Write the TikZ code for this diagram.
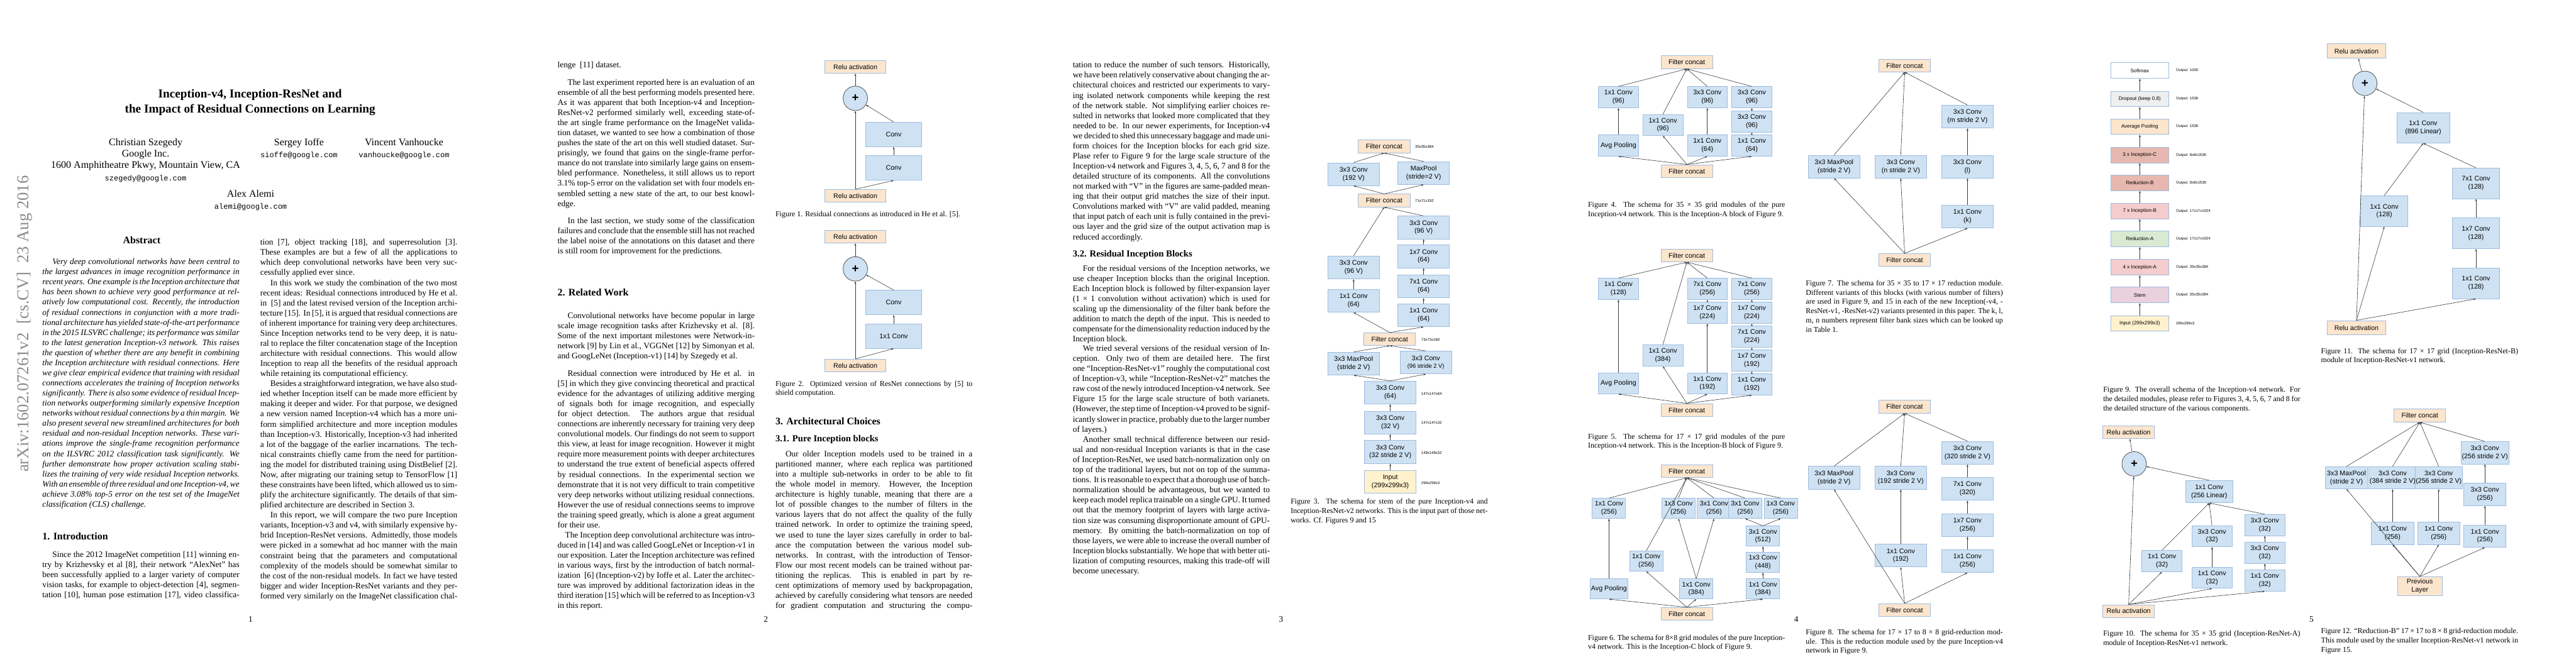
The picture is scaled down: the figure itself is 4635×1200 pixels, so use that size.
\documentclass[tikz,border=0pt]{standalone}
\usepackage{fontspec}
\setmainfont{Liberation Serif}
\setsansfont{Liberation Sans}
\setmonofont{Liberation Mono}
\usetikzlibrary{arrows.meta, positioning}

\newlength{\pxu}
\setlength{\pxu}{0.23283mm}
\definecolor{convfill}{HTML}{CFE2F3}
\definecolor{catfill}{HTML}{FCE5CD}
\definecolor{inpfill}{HTML}{FFF2CC}
\definecolor{boxline}{HTML}{9FBCE0}
\definecolor{sumline}{HTML}{505050}
\definecolor{wire}{HTML}{3A3A3A}
\definecolor{stampgray}{HTML}{8C8C8C}
\definecolor{incfill}{HTML}{F4CCCC}
\definecolor{redfill}{HTML}{E6B8AF}
\definecolor{grnfill}{HTML}{D9EAD3}
\definecolor{stemfill}{HTML}{EAD1DC}
\definecolor{grayfill}{HTML}{EFEFEF}

\newcommand{\bodytext}[1]{\parbox[t]{3.25in}{\fontsize{10}{12.05}\selectfont
  \setlength{\parindent}{12pt}\setlength{\parskip}{0pt}#1}}
\newcommand{\captext}[1]{\parbox[t]{3.25in}{\fontsize{9}{11.1}\selectfont
  \setlength{\parindent}{0pt}#1}}
\newcommand{\figfont}{\sffamily\fontsize{8}{9.5}\selectfont}
\newcommand{\smallfig}{\sffamily\fontsize{6.5}{7.8}\selectfont}
\newcommand{\secfont}{\fontsize{12}{14}\selectfont\bfseries}
\newcommand{\subsecfont}{\fontsize{11}{13}\selectfont\bfseries}

\tikzset{
  blk/.style={rectangle, draw=boxline, line width=0.6pt, inner sep=1pt,
    align=center, font=\figfont},
  conv/.style={blk, fill=convfill},
  cat/.style={blk, fill=catfill},
  inp/.style={blk, fill=inpfill},
  wh/.style 2 args={minimum width=#1\pxu, minimum height=#2\pxu},
  sumnode/.style={circle, draw=sumline, fill=convfill, line width=0.6pt,
    minimum size=44\pxu, inner sep=0, font=\sffamily\fontsize{14}{14}\selectfont\bfseries},
  dimlbl/.style={anchor=west, inner sep=0, font=\sffamily\fontsize{4.5}{5}\selectfont},
  arr/.style={draw=wire, line width=0.45pt, -{Stealth[length=3pt, width=2.2pt]}},
  txt/.style={anchor=base west, inner sep=0},
  pgnum/.style={anchor=base, inner sep=0, font=\fontsize{10}{12}\selectfont},
}

\begin{document}
\begin{tikzpicture}[x=1\pxu, y=-1\pxu]
\fill[white] (0,0) rectangle (4635,1200);
\useasboundingbox (0,0) rectangle (4635,1200);

% ---------- page 1
\node[anchor=west, rotate=90, inner sep=0, text=stampgray, font=\fontsize{20}{20}\selectfont]
  (stamp) at (44,850) {arXiv:1602.07261v2\ \ [cs.CV]\ \ 23 Aug 2016};
\node[anchor=base, inner sep=0, font=\fontsize{14.4}{18}\selectfont\bfseries]
  (title1) at (450,176) {Inception-v4, Inception-ResNet and};
\node[anchor=base, inner sep=0, font=\fontsize{14.4}{18}\selectfont\bfseries]
  (title2) at (450,203) {the Impact of Residual Connections on Learning};
\node[anchor=base, inner sep=0, font=\fontsize{12}{14}\selectfont] (au1) at (262,262) {Christian Szegedy};
\node[anchor=base, inner sep=0, font=\fontsize{12}{14}\selectfont] (aff1) at (262,282) {Google Inc.};
\node[anchor=base, inner sep=0, font=\fontsize{12}{14}\selectfont] (adr1) at (262,303) {1600 Amphitheatre Pkwy, Mountain View, CA};
\node[anchor=base, inner sep=0, font=\fontsize{9}{11}\ttfamily] (em1) at (262,325) {szegedy@google.com};
\node[anchor=base, inner sep=0, font=\fontsize{12}{14}\selectfont] (au2) at (538,262) {Sergey Ioffe};
\node[anchor=base, inner sep=0, font=\fontsize{9}{11}\ttfamily] (em2) at (538,283) {sioffe@google.com};
\node[anchor=base, inner sep=0, font=\fontsize{12}{14}\selectfont] (au3) at (727,262) {Vincent Vanhoucke};
\node[anchor=base, inner sep=0, font=\fontsize{9}{11}\ttfamily] (em3) at (727,283) {vanhoucke@google.com};
\node[anchor=base, inner sep=0, font=\fontsize{12}{14}\selectfont] (au4) at (451,355) {Alex Alemi};
\node[anchor=base, inner sep=0, font=\fontsize{9}{11}\ttfamily] (em4) at (451,376) {alemi@google.com};

\node[anchor=base, inner sep=0, font=\fontsize{12}{14}\selectfont\bfseries] (abshead) at (255,438) {Abstract};
\node[txt] (abstract) at (76,476) {\bodytext{\itshape Very deep convolutional networks have been central to the largest advances in image recognition performance in recent years. One example is the Inception architecture that has been shown to achieve very good performance at relatively low computational cost. Recently, the introduction of residual connections in conjunction with a more traditional architecture has yielded state-of-the-art performance in the 2015 ILSVRC challenge; its performance was similar to the latest generation Inception-v3 network. This raises the question of whether there are any benefit in combining the Inception architecture with residual connections. Here we give clear empirical evidence that training with residual connections accelerates the training of Inception networks significantly. There is also some evidence of residual Inception networks outperforming similarly expensive Inception networks without residual connections by a thin margin. We also present several new streamlined architectures for both residual and non-residual Inception networks. These variations improve the single-frame recognition performance on the ILSVRC 2012 classification task significantly. We further demonstrate how proper activation scaling stabilizes the training of very wide residual Inception networks. With an ensemble of three residual and one Inception-v4, we achieve 3.08\% top-5 error on the test set of the ImageNet classification (CLS) challenge.}};
\node[txt, font=\secfont] (sec1) at (76,972) {1. Introduction};
\node[txt] (intro) at (76,1003) {\bodytext{\parfillskip=0pt Since the 2012 ImageNet competition [11] winning entry by Krizhevsky et al [8], their network ``AlexNet'' has been successfully applied to a larger variety of computer vision tasks, for example to object-detection [4], segmentation [10], human pose estimation [17], video classifica-}};
\node[txt] (p1right) at (468,441) {\bodytext{\noindent tion [7], object tracking [18], and superresolution [3]. These examples are but a few of all the applications to which deep convolutional networks have been very successfully applied ever since.

In this work we study the combination of the two most recent ideas: Residual connections introduced by He et al. in~ [5] and the latest revised version of the Inception architecture [15]. In [5], it is argued that residual connections are of inherent importance for training very deep architectures. Since Inception networks tend to be very deep, it is natural to replace the filter concatenation stage of the Inception architecture with residual connections. This would allow Inception to reap all the benefits of the residual approach while retaining its computational efficiency.

Besides a straightforward integration, we have also studied whether Inception itself can be made more efficient by making it deeper and wider. For that purpose, we designed a new version named Inception-v4 which has a more uniform simplified architecture and more inception modules than Inception-v3. Historically, Inception-v3 had inherited a lot of the baggage of the earlier incarnations. The technical constraints chiefly came from the need for partitioning the model for distributed training using DistBelief [2]. Now, after migrating our training setup to TensorFlow [1] these constraints have been lifted, which allowed us to simplify the architecture significantly. The details of that simplified architecture are described in Section 3.

\parfillskip=0pt In this report, we will compare the two pure Inception variants, Inception-v3 and v4, with similarly expensive hybrid Inception-ResNet versions. Admittedly, those models were picked in a somewhat ad hoc manner with the main constraint being that the parameters and computational complexity of the models should be somewhat similar to the cost of the non-residual models. In fact we have tested bigger and wider Inception-ResNet variants and they performed very similarly on the ImageNet classification chal-}};
\node[pgnum] (pg1) at (451,1120) {1};

% ---------- page 2
\node[txt] (p2a) at (1003,122) {\bodytext{\noindent lenge~ [11] dataset.}};
\node[txt] (p2b) at (1003,153) {\bodytext{The last experiment reported here is an evaluation of an ensemble of all the best performing models presented here. As it was apparent that both Inception-v4 and Inception-ResNet-v2 performed similarly well, exceeding state-of-the art single frame performance on the ImageNet validation dataset, we wanted to see how a combination of those pushes the state of the art on this well studied dataset. Surprisingly, we found that gains on the single-frame performance do not translate into similarly large gains on ensembled performance. Nonetheless, it still allows us to report 3.1\% top-5 error on the validation set with four models ensembled setting a new state of the art, to our best knowledge.}};
\node[txt] (p2c) at (1003,402) {\bodytext{In the last section, we study some of the classification failures and conclude that the ensemble still has not reached the label noise of the annotations on this dataset and there is still room for improvement for the predictions.}};
\node[txt, font=\secfont] (sec2) at (1003,532) {2. Related Work};
\node[txt] (p2d) at (1003,573) {\bodytext{Convolutional networks have become popular in large scale image recognition tasks after Krizhevsky et al. [8]. Some of the next important milestones were Network-in-network [9] by Lin et al., VGGNet [12] by Simonyan et al. and GoogLeNet (Inception-v1) [14] by Szegedy et al.}};
\node[txt] (p2e) at (1003,677) {\bodytext{\looseness=-1 Residual connection were introduced by He et al. in [5] in which they give convincing theoretical and practical evidence for the advantages of utilizing additive merging of signals both for image recognition, and especially for object detection. The authors argue that residual connections are inherently necessary for training very deep convolutional models. Our findings do not seem to support this view, at least for image recognition. However it might require more measurement points with deeper architectures to understand the true extent of beneficial aspects offered by residual connections. In the experimental section we demonstrate that it is not very difficult to train competitive very deep networks without utilizing residual connections. However the use of residual connections seems to improve the training speed greatly, which is alone a great argument for their use.\par
\noindent\hspace*{9pt}The Inception deep convolutional architecture was introduced in [14] and was called GoogLeNet or Inception-v1 in our exposition. Later the Inception architecture was refined in various ways, first by the introduction of batch normalization~ [6] (Inception-v2) by Ioffe et al. Later the architecture was improved by additional factorization ideas in the third iteration [15] which will be referred to as Inception-v3 in this report.}};

% figure 1
\node[cat, wh={110}{23}] (f1relu2) at (1539,120.5) {Relu activation};
\node[sumnode] (f1sum) at (1539,177) {+};
\node[conv, wh={100}{44}] (f1conv2) at (1608,242) {Conv};
\node[conv, wh={100}{44}] (f1conv1) at (1608,302.5) {Conv};
\node[cat, wh={110}{23}] (f1relu1) at (1539,352.5) {Relu activation};
\draw[arr] (f1relu1.north) -- (f1sum);
\draw[arr] (f1relu1.north) -- (f1conv1.south);
\draw[arr] (f1conv1) -- (f1conv2);
\draw[arr] (f1conv2.north) -- (f1sum);
\draw[arr] (f1sum) -- (f1relu2);
\node[txt] (cap1) at (1395,390) {\captext{Figure 1. Residual connections as introduced in He et al. [5].}};

% figure 2
\node[cat, wh={110}{23}] (f2relu2) at (1539,426) {Relu activation};
\node[sumnode] (f2sum) at (1539,484) {+};
\node[conv, wh={100}{44}] (f2conv2) at (1608,544.5) {Conv};
\node[conv, wh={100}{44}] (f2conv1) at (1608,605) {1x1 Conv};
\node[cat, wh={110}{23}] (f2relu1) at (1539,658) {Relu activation};
\draw[arr] (f2relu1.north) -- (f2sum);
\draw[arr] (f2relu1.north) -- (f2conv1.south);
\draw[arr] (f2conv1) -- (f2conv2);
\draw[arr] (f2conv2.north) -- (f2sum);
\draw[arr] (f2sum) -- (f2relu2);
\node[txt] (cap2) at (1395,695) {\captext{Figure 2. Optimized version of ResNet connections by [5] to shield computation.}};

\node[txt, font=\secfont] (sec3) at (1395,764) {3. Architectural Choices};
\node[txt, font=\subsecfont] (sec31) at (1395,795) {3.1. Pure Inception blocks};
\node[txt] (p2g) at (1395,822) {\bodytext{\parfillskip=0pt Our older Inception models used to be trained in a partitioned manner, where each replica was partitioned into a multiple sub-networks in order to be able to fit the whole model in memory. However, the Inception architecture is highly tunable, meaning that there are a lot of possible changes to the number of filters in the various layers that do not affect the quality of the fully trained network. In order to optimize the training speed, we used to tune the layer sizes carefully in order to balance the computation between the various model sub-networks. In contrast, with the introduction of TensorFlow our most recent models can be trained without partitioning the replicas. This is enabled in part by recent optimizations of memory used by backpropagation, achieved by carefully considering what tensors are needed for gradient computation and structuring the compu-}};
\node[pgnum] (pg2) at (1378,1120) {2};

% ---------- page 3
\node[txt] (p3a) at (1930,122) {\bodytext{\noindent tation to reduce the number of such tensors. Historically, we have been relatively conservative about changing the architectural choices and restricted our experiments to varying isolated network components while keeping the rest of the network stable. Not simplifying earlier choices resulted in networks that looked more complicated that they needed to be. In our newer experiments, for Inception-v4 we decided to shed this unnecessary baggage and made uniform choices for the Inception blocks for each grid size. Plase refer to Figure 9 for the large scale structure of the Inception-v4 network and Figures 3, 4, 5, 6, 7 and 8 for the detailed structure of its components. All the convolutions not marked with ``V'' in the figures are same-padded meaning that their output grid matches the size of their input. Convolutions marked with ``V'' are valid padded, meaning that input patch of each unit is fully contained in the previous layer and the grid size of the output activation map is reduced accordingly.}};
\node[txt, font=\subsecfont] (sec32) at (1930,462) {3.2. Residual Inception Blocks};
\node[txt] (p3b) at (1930,488) {\bodytext{For the residual versions of the Inception networks, we use cheaper Inception blocks than the original Inception. Each Inception block is followed by filter-expansion layer (1 × 1 convolution without activation) which is used for scaling up the dimensionality of the filter bank before the addition to match the depth of the input. This is needed to compensate for the dimensionality reduction induced by the Inception block.}};
\node[txt] (p3c) at (1930,632) {\bodytext{We tried several versions of the residual version of Inception. Only two of them are detailed here. The first one ``Inception-ResNet-v1'' roughly the computational cost of Inception-v3, while ``Inception-ResNet-v2'' matches the raw cost of the newly introduced Inception-v4 network. See Figure 15 for the large scale structure of both varianets. (However, the step time of Inception-v4 proved to be significantly slower in practice, probably due to the larger number of layers.)}};
\node[txt] (p3d) at (1930,796) {\bodytext{Another small technical difference between our residual and non-residual Inception variants is that in the case of Inception-ResNet, we used batch-normalization only on top of the traditional layers, but not on top of the summations. It is reasonable to expect that a thorough use of batch-normalization should be advantageous, but we wanted to keep each model replica trainable on a single GPU. It turned out that the memory footprint of layers with large activation size was consuming disproportionate amount of GPU-memory. By omitting the batch-normalization on top of those layers, we were able to increase the overall number of Inception blocks substantially. We hope that with better utilization of computing resources, making this trade-off will become unecessary.}};

% figure 3 (stem)
\node[cat, wh={93}{23}] (s9) at (2490.5,263.5) {Filter concat};
\node[conv, wh={93}{41}] (s8a) at (2435.5,313.5) {3x3 Conv\\(192 V)};
\node[conv, wh={93}{41}] (s8b) at (2561.5,311.5) {MaxPool\\(stride=2 V)};
\node[cat, wh={93}{23}] (s7) at (2490.5,361) {Filter concat};
\node[conv, wh={93}{41}] (s6d) at (2561.5,409.5) {3x3 Conv\\(96 V)};
\node[conv, wh={93}{41}] (s6c) at (2561.5,461.5) {1x7 Conv\\(64)};
\node[conv, wh={93}{41}] (s6b) at (2561.5,515.5) {7x1 Conv\\(64)};
\node[conv, wh={93}{41}] (s6a) at (2561.5,567.5) {1x1 Conv\\(64)};
\node[conv, wh={93}{41}] (s5b) at (2435.5,481.5) {3x3 Conv\\(96 V)};
\node[conv, wh={93}{41}] (s5a) at (2435.5,541.5) {1x1 Conv\\(64)};
\node[cat, wh={93}{23}] (s4) at (2500.5,610.5) {Filter concat};
\node[conv, wh={93}{41}] (s3a) at (2435.5,654.5) {3x3 MaxPool\\(stride 2 V)};
\node[conv, wh={93}{41}] (s3b) at (2565.5,652.5) {3x3 Conv\\{\fontsize{7}{8}\selectfont(96 stride 2 V)}};
\node[conv, wh={93}{41}] (s2c) at (2501.5,706.5) {3x3 Conv\\(64)};
\node[conv, wh={93}{41}] (s2b) at (2501.5,760.5) {3x3 Conv\\(32 V)};
\node[conv, wh={93}{41}] (s2a) at (2501.5,813.5) {3x3 Conv\\(32 stride 2 V)};
\node[inp, wh={93}{41}] (s1) at (2501.5,867.5) {Input\\(299x299x3)};
\node[dimlbl] (d9) at (2546,264) {35x35x384};
\node[dimlbl] (d7) at (2546,361) {71x71x192};
\node[dimlbl] (d4) at (2557,611) {73x73x160};
\node[dimlbl] (d3) at (2557,709) {147x147x64};
\node[dimlbl] (d2) at (2557,761) {147x147x32};
\node[dimlbl] (d1) at (2557,815) {149x149x32};
\node[dimlbl] (d0) at (2557,869) {299x299x3};
\draw[arr] (s1) -- (s2a);
\draw[arr] (s2a) -- (s2b);
\draw[arr] (s2b) -- (s2c);
\draw[arr] (s2c.north) -- (s3a.south);
\draw[arr] (s2c.north) -- (s3b.south);
\draw[arr] (s3a.north) -- (s4.south);
\draw[arr] (s3b.north) -- (s4.south);
\draw[arr] (s4.north) -- (s5a.south);
\draw[arr] (s4.north) -- (s6a.south);
\draw[arr] (s5a) -- (s5b);
\draw[arr] (s6a) -- (s6b);
\draw[arr] (s6b) -- (s6c);
\draw[arr] (s6c) -- (s6d);
\draw[arr] (s5b.north) -- (s7.south);
\draw[arr] (s6d.north) -- (s7.south);
\draw[arr] (s7.north) -- (s8a.south);
\draw[arr] (s7.north) -- (s8b.south);
\draw[arr] (s8a.north) -- (s9.south);
\draw[arr] (s8b.north) -- (s9.south);
\node[txt] (cap3) at (2322,907) {\captext{Figure 3. The schema for stem of the pure Inception-v4 and Inception-ResNet-v2 networks. This is the input part of those networks. Cf. Figures 9 and 15}};
\node[pgnum] (pg3) at (2305,1120) {3};

% ---------- page 4
% figure 4 (Inception-A)
\node[cat, wh={93}{23}] (a9) at (3035,112) {Filter concat};
\node[conv, wh={72}{38}] (a1b) at (2912,175) {1x1 Conv\\(96)};
\node[conv, wh={72}{38}] (a1a) at (2912,262) {Avg Pooling};
\node[conv, wh={72}{38}] (a2) at (2992,225) {1x1 Conv\\(96)};
\node[conv, wh={72}{38}] (a3b) at (3072,175) {3x3 Conv\\(96)};
\node[conv, wh={72}{38}] (a3a) at (3072,262) {1x1 Conv\\(64)};
\node[conv, wh={72}{38}] (a4c) at (3152,175) {3x3 Conv\\(96)};
\node[conv, wh={72}{38}] (a4b) at (3152,219) {3x3 Conv\\(96)};
\node[conv, wh={72}{38}] (a4a) at (3152,262) {1x1 Conv\\(64)};
\node[cat, wh={93}{23}] (a0) at (3035,308) {Filter concat};
\foreach \s/\t in {a0/a1a, a0/a2, a0/a3a, a0/a4a, a1a/a1b, a3a/a3b, a4a/a4b, a4b/a4c, a1b/a9, a2/a9, a3b/a9, a4c/a9}
  \draw[arr] (\s.north) -- (\t.south);
\node[txt] (cap4) at (2857,373) {\captext{Figure 4. The schema for 35 × 35 grid modules of the pure Inception-v4 network. This is the Inception-A block of Figure 9.}};

% figure 5 (Inception-B)
\node[cat, wh={93}{23}] (b9) at (3035,460) {Filter concat};
\node[conv, wh={72}{38}] (b1b) at (2912,520) {1x1 Conv\\(128)};
\node[conv, wh={72}{38}] (b1a) at (2912,690) {Avg Pooling};
\node[conv, wh={72}{38}] (b2) at (2992,640) {1x1 Conv\\(384)};
\node[conv, wh={72}{38}] (b3c) at (3072,520) {7x1 Conv\\(256)};
\node[conv, wh={72}{38}] (b3b) at (3072,563) {1x7 Conv\\(224)};
\node[conv, wh={72}{38}] (b3a) at (3072,690) {1x1 Conv\\(192)};
\node[conv, wh={72}{38}] (b4e) at (3152,520) {7x1 Conv\\(256)};
\node[conv, wh={72}{38}] (b4d) at (3152,563) {1x7 Conv\\(224)};
\node[conv, wh={72}{38}] (b4c) at (3152,606) {7x1 Conv\\(224)};
\node[conv, wh={72}{38}] (b4b) at (3152,649) {1x7 Conv\\(192)};
\node[conv, wh={72}{38}] (b4a) at (3152,692) {1x1 Conv\\(192)};
\node[cat, wh={93}{23}] (b0) at (3035,738) {Filter concat};
\foreach \s/\t in {b0/b1a, b0/b2, b0/b3a, b0/b4a, b1a/b1b, b3a/b3b, b3b/b3c, b4a/b4b, b4b/b4c, b4c/b4d, b4d/b4e, b1b/b9, b2/b9, b3c/b9, b4e/b9}
  \draw[arr] (\s.north) -- (\t.south);
\node[txt] (cap5) at (2857,790) {\captext{Figure 5. The schema for 17 × 17 grid modules of the pure Inception-v4 network. This is the Inception-B block of Figure 9.}};

% figure 6 (Inception-C)
\node[cat, wh={93}{23}] (c9) at (3035,848) {Filter concat};
\node[conv, wh={60}{36}] (c1b) at (2895,915) {1x1 Conv\\(256)};
\node[conv, wh={60}{36}] (c1a) at (2895,1060) {Avg Pooling};
\node[conv, wh={60}{36}] (c2) at (2962,1010) {1x1 Conv\\(256)};
\node[conv, wh={60}{36}] (c3b) at (3020,915) {1x3 Conv\\(256)};
\node[conv, wh={60}{36}] (c3c) at (3084,915) {3x1 Conv\\(256)};
\node[conv, wh={60}{36}] (c3a) at (3052,1060) {1x1 Conv\\(384)};
\node[conv, wh={60}{36}] (c4d) at (3140,915) {3x1 Conv\\(256)};
\node[conv, wh={60}{36}] (c4e) at (3204,915) {1x3 Conv\\(256)};
\node[conv, wh={60}{36}] (c4c) at (3172,965) {3x1 Conv\\(512)};
\node[conv, wh={60}{36}] (c4b) at (3172,1012) {1x3 Conv\\(448)};
\node[conv, wh={60}{36}] (c4a) at (3172,1060) {1x1 Conv\\(384)};
\node[cat, wh={93}{23}] (c0) at (3035,1105) {Filter concat};
\foreach \s/\t in {c0/c1a, c0/c2, c0/c3a, c0/c4a, c1a/c1b, c3a/c3b, c3a/c3c, c4a/c4b, c4b/c4c, c4c/c4d, c4c/c4e, c1b/c9, c2/c9, c3b/c9, c3c/c9, c4d/c9, c4e/c9}
  \draw[arr] (\s.north) -- (\t.south);
\node[txt] (cap6) at (2857,1152) {\captext{Figure 6. The schema for 8×8 grid modules of the pure Inception-v4 network. This is the Inception-C block of Figure 9.}};

% figure 7 (Reduction-A)
\node[cat, wh={93}{23}] (r9) at (3427,118) {Filter concat};
\node[conv, wh={93}{41}] (r1) at (3300,300) {3x3 MaxPool\\(stride 2 V)};
\node[conv, wh={93}{41}] (r2) at (3420,300) {3x3 Conv\\(n stride 2 V)};
\node[conv, wh={93}{41}] (r3c) at (3540,210) {3x3 Conv\\(m stride 2 V)};
\node[conv, wh={93}{41}] (r3b) at (3540,300) {3x3 Conv\\(l)};
\node[conv, wh={93}{41}] (r3a) at (3540,390) {1x1 Conv\\(k)};
\node[cat, wh={93}{23}] (r0) at (3427,468) {Filter concat};
\foreach \s/\t in {r0/r1, r0/r2, r0/r3a, r3a/r3b, r3b/r3c, r1/r9, r2/r9, r3c/r9}
  \draw[arr] (\s.north) -- (\t.south);
\node[txt] (cap7) at (3249,514) {\captext{Figure 7. The schema for 35 × 35 to 17 × 17 reduction module. Different variants of this blocks (with various number of filters) are used in Figure 9, and 15 in each of the new Inception(-v4, -ResNet-v1, -ResNet-v2) variants presented in this paper. The k, l, m, n numbers represent filter bank sizes which can be looked up in Table 1.}};

% figure 8 (Reduction-B)
\node[cat, wh={93}{23}] (q9) at (3427,732) {Filter concat};
\node[conv, wh={93}{41}] (q1) at (3300,860) {3x3 MaxPool\\(stride 2 V)};
\node[conv, wh={93}{41}] (q2b) at (3420,860) {3x3 Conv\\(192 stride 2 V)};
\node[conv, wh={93}{41}] (q2a) at (3420,1000) {1x1 Conv\\(192)};
\node[conv, wh={93}{41}] (q3d) at (3540,815) {3x3 Conv\\(320 stride 2 V)};
\node[conv, wh={93}{41}] (q3c) at (3540,880) {7x1 Conv\\(320)};
\node[conv, wh={93}{41}] (q3b) at (3540,945) {1x7 Conv\\(256)};
\node[conv, wh={93}{41}] (q3a) at (3540,1010) {1x1 Conv\\(256)};
\node[cat, wh={93}{23}] (q0) at (3427,1098) {Filter concat};
\foreach \s/\t in {q0/q1, q0/q2a, q0/q3a, q2a/q2b, q3a/q3b, q3b/q3c, q3c/q3d, q1/q9, q2b/q9, q3d/q9}
  \draw[arr] (\s.north) -- (\t.south);
\node[txt] (cap8) at (3249,1142) {\captext{Figure 8. The schema for 17 × 17 to 8 × 8 grid-reduction module. This is the reduction module used by the pure Inception-v4 network in Figure 9.}};
\node[pgnum] (pg4) at (3232,1120) {4};

% ---------- page 5
% figure 9 (Inception-v4)
\foreach \yy/\nm/\lbl/\col/\outl in {
  127/n10/Softmax/white/Output: 1000,
  178/n9/Dropout (keep 0.8)/grayfill/Output: 1536,
  228/n8/Average Pooling/catfill/Output: 1536,
  279/n7/3 x Inception-C/redfill/Output: 8x8x1536,
  329/n6/Reduction-B/redfill/Output: 8x8x1536,
  380/n5/7 x Inception-B/incfill/Output: 17x17x1024,
  430/n4/Reduction-A/grnfill/Output: 17x17x1024,
  481/n3/4 x Inception-A/incfill/Output: 35x35x384,
  531/n2/Stem/stemfill/Output: 35x35x384,
  582/n1/Input (299x299x3)/inpfill/299x299x3}
{
  \node[blk, fill=\col, wh={105}{28}, font=\sffamily\fontsize{6}{7}\selectfont] (\nm) at (3850,\yy) {\lbl};
  \node[dimlbl] (\nm lbl) at (3915,\yy) {\outl};
}
\foreach \s/\t in {n1/n2, n2/n3, n3/n4, n4/n5, n5/n6, n6/n7, n7/n8, n8/n9, n9/n10}
  \draw[arr] (\s) -- (\t);
\node[txt] (cap9) at (3784,706) {\captext{Figure 9. The overall schema of the Inception-v4 network. For the detailed modules, please refer to Figures 3, 4, 5, 6, 7 and 8 for the detailed structure of the various components.}};

% figure 10 (Inception-ResNet-A)
\node[cat, wh={93}{23}] (e9) at (3830,778) {Relu activation};
\node[sumnode] (esum) at (3840,835) {+};
\node[conv, wh={85}{40}] (elin) at (3975,885) {1x1 Conv\\(256 Linear)};
\node[conv, wh={72}{38}] (e1) at (3890,1010) {1x1 Conv\\(32)};
\node[conv, wh={72}{38}] (e2b) at (3980,965) {3x3 Conv\\(32)};
\node[conv, wh={72}{38}] (e2a) at (3980,1040) {1x1 Conv\\(32)};
\node[conv, wh={72}{38}] (e3c) at (4075,945) {3x3 Conv\\(32)};
\node[conv, wh={72}{38}] (e3b) at (4075,995) {3x3 Conv\\(32)};
\node[conv, wh={72}{38}] (e3a) at (4075,1045) {1x1 Conv\\(32)};
\node[cat, wh={93}{23}] (e0) at (3830,1100) {Relu activation};
\foreach \s/\t in {e0/e1, e0/e2a, e0/e3a, e2a/e2b, e3a/e3b, e3b/e3c, e1/elin, e2b/elin, e3c/elin}
  \draw[arr] (\s.north) -- (\t.south);
\draw[arr] (e0.north) -- (esum);
\draw[arr] (elin.north) -- (esum);
\draw[arr] (esum) -- (e9);
\node[txt] (cap10) at (3784,1145) {\captext{Figure 10. The schema for 35 × 35 grid (Inception-ResNet-A) module of Inception-ResNet-v1 network.}};

% figure 11 (Inception-ResNet-B)
\node[cat, wh={105}{26}] (g9) at (4240,92) {Relu activation};
\node[sumnode] (gsum) at (4255,150) {+};
\node[conv, wh={95}{55}] (glin) at (4360,230) {1x1 Conv\\(896 Linear)};
\node[conv, wh={85}{55}] (g1) at (4290,380) {1x1 Conv\\(128)};
\node[conv, wh={85}{55}] (g2c) at (4455,330) {7x1 Conv\\(128)};
\node[conv, wh={85}{55}] (g2b) at (4455,420) {1x7 Conv\\(128)};
\node[conv, wh={85}{55}] (g2a) at (4455,510) {1x1 Conv\\(128)};
\node[cat, wh={105}{26}] (g0) at (4240,590) {Relu activation};
\foreach \s/\t in {g0/g1, g0/g2a, g2a/g2b, g2b/g2c, g1/glin, g2c/glin}
  \draw[arr] (\s.north) -- (\t.south);
\draw[arr] (g0.north) -- (gsum);
\draw[arr] (glin.north) -- (gsum);
\draw[arr] (gsum) -- (g9);
\node[txt] (cap11) at (4176,636) {\captext{Figure 11. The schema for 17 × 17 grid (Inception-ResNet-B) module of Inception-ResNet-v1 network.}};

% figure 12 (Reduction-B, v1)
\node[cat, wh={93}{23}] (h9) at (4354,748) {Filter concat};
\node[conv, wh={76}{40}] (h1) at (4222,860) {3x3 MaxPool\\(stride 2 V)};
\node[conv, wh={76}{40}] (h2b) at (4305,860) {3x3 Conv\\(384 stride 2 V)};
\node[conv, wh={76}{40}] (h2a) at (4305,960) {1x1 Conv\\(256)};
\node[conv, wh={76}{40}] (h3b) at (4388,860) {3x3 Conv\\(256 stride 2 V)};
\node[conv, wh={76}{40}] (h3a) at (4388,960) {1x1 Conv\\(256)};
\node[conv, wh={76}{40}] (h4c) at (4471,815) {3x3 Conv\\(256 stride 2 V)};
\node[conv, wh={76}{40}] (h4b) at (4471,890) {3x3 Conv\\(256)};
\node[conv, wh={76}{40}] (h4a) at (4471,965) {1x1 Conv\\(256)};
\node[cat, wh={80}{34}] (h0) at (4354,1055) {Previous\\Layer};
\foreach \s/\t in {h0/h1, h0/h2a, h0/h3a, h0/h4a, h2a/h2b, h3a/h3b, h4a/h4b, h4b/h4c, h1/h9, h2b/h9, h3b/h9, h4c/h9}
  \draw[arr] (\s.north) -- (\t.south);
\node[txt] (cap12) at (4176,1140) {\captext{Figure 12. ``Reduction-B'' 17 × 17 to 8 × 8 grid-reduction module. This module used by the smaller Inception-ResNet-v1 network in Figure 15.}};
\node[pgnum] (pg5) at (4159,1120) {5};
\end{tikzpicture}
\end{document}
